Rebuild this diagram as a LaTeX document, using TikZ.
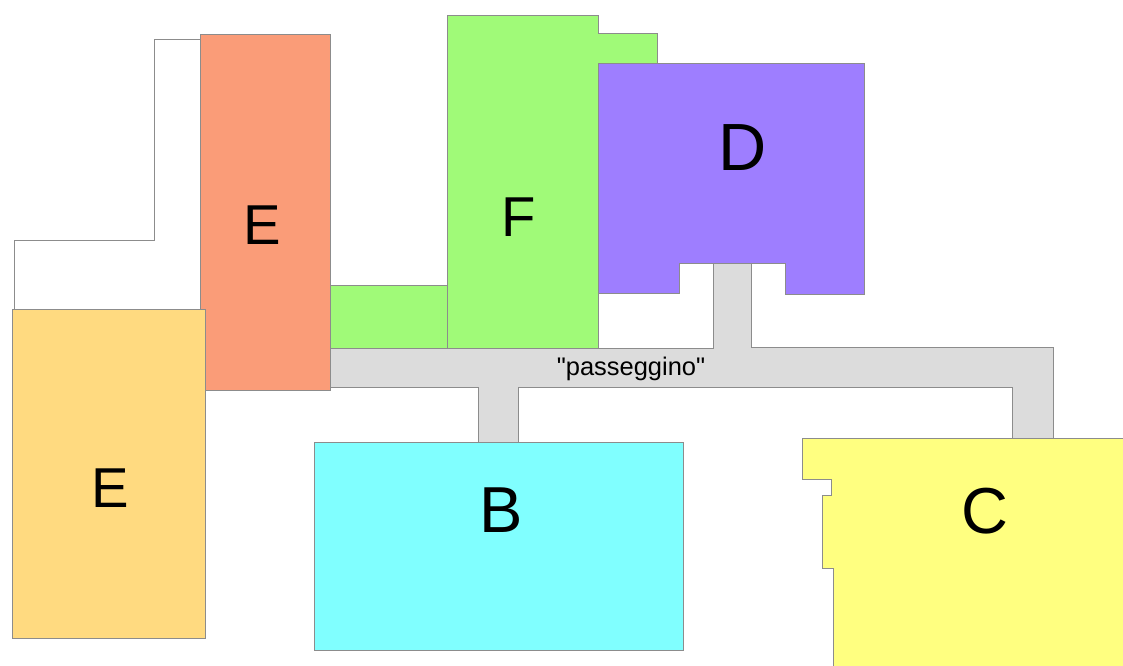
\documentclass[tikz,border=0pt]{standalone}
\usepackage{fontspec}
\setmainfont{Liberation Sans}
\newfontfamily\plainfont{Liberation Sans}[Ligatures=TeXOff]
\usepackage{tikz}

\definecolor{wingE}{RGB}{250,156,120}
\definecolor{wingEb}{RGB}{255,218,128}
\definecolor{wingF}{RGB}{160,250,120}
\definecolor{wingD}{RGB}{158,126,255}
\definecolor{wingB}{RGB}{128,255,255}
\definecolor{wingC}{RGB}{255,255,128}
\definecolor{corridor}{RGB}{220,220,220}
\definecolor{edgegray}{RGB}{140,140,140}

\begin{document}
\begin{tikzpicture}[
		x=0.02cm,
		y=-0.02cm,
		wing/.style={draw=edgegray, line width=0.5pt},
		wing label/.style={font=\fontsize{37}{37}\selectfont, inner sep=0pt},
		small label/.style={font=\fontsize{32}{32}\selectfont, inner sep=0pt}
		]
		
		\useasboundingbox[fill=white] (0,0) rectangle (1123,666);
		
		% old outline, top left
		\draw[wing, fill=white] (14,309) -- (14,240) -- (154,240) -- (154,39) -- (200,39);
		
		\filldraw[wing, fill=wingE] (200,34) rectangle (330,390);
		\filldraw[wing, fill=wingF] (447,15) -- (598,15) -- (598,33) -- (657,33) -- (657,63)
		-- (598,63) -- (598,348) -- (447,348) -- cycle;
		\filldraw[wing, fill=wingF] (330,285) rectangle (447,348);
		\filldraw[wing, fill=wingD] (598,63) -- (864,63) -- (864,294) -- (785,294) -- (785,263)
		-- (679,263) -- (679,293) -- (598,293) -- cycle;
		
		% passeggino
		\filldraw[wing, fill=corridor] (330,348) -- (713,348) -- (713,263) -- (751,263) -- (751,347)
		-- (1053,347) -- (1053,438) -- (1012,438) -- (1012,387) -- (518,387) -- (518,442)
		-- (478,442) -- (478,387) -- (330,387) -- cycle;
		
		\filldraw[wing, fill=wingB] (314,442) rectangle (683,650);
		\filldraw[wing, fill=wingC] (802,438) -- (1123,438) -- (1123,666) -- (833,666) -- (833,568)
		-- (822,568) -- (822,495) -- (831,495) -- (831,479) -- (802,479) -- cycle;
		\filldraw[wing, fill=wingEb] (12,309) rectangle (205,638);
		
		\node[small label] (eTop) at (262,225) {E};
		\node[small label] (eLow) at (110,488) {E};
		\node[small label] (f) at (519,217) {F};
		\node[wing label, font=\fontsize{38}{38}\selectfont] (d) at (743,148) {D};
		\node[wing label] (b) at (501,510) {B};
		\node[wing label] (c) at (985,511) {C};
		\node[font=\plainfont\fontsize{14.5}{14.5}\selectfont, inner sep=0pt] (pass) at (631,369) {"passeggino"};
	\end{tikzpicture}
\end{document}
